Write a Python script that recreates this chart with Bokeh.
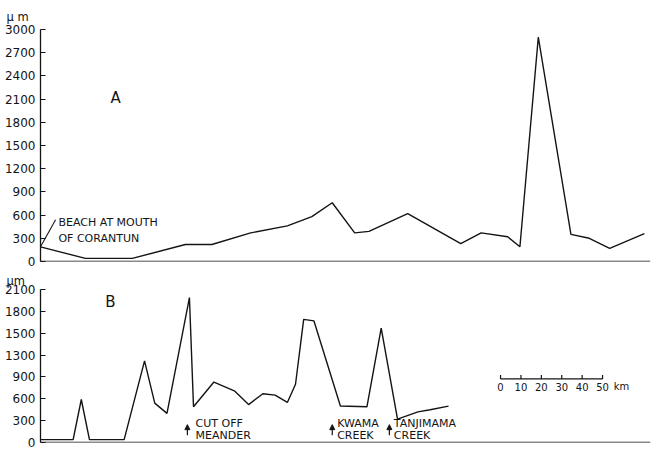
from bokeh.plotting import figure
from bokeh.layouts import column
from bokeh.models import Range1d, FixedTicker, Span, Label, Arrow, NormalHead, Title
from bokeh.embed import file_html
from bokeh.resources import INLINE

# ---------------- data ----------------
# Panel A: distance along coast (km) vs value (m)
a_km = [0, 22, 45, 71, 84, 103, 121, 133, 143, 154, 161, 180, 206, 216, 229, 235, 244, 260, 269, 279, 296]
a_val = [190, 40, 40, 220, 220, 370, 460, 580, 760, 370, 390, 620, 230, 370, 320, 190, 2900, 350, 300, 170, 360]

# Panel B
b_km = [0, 16, 20, 24, 41, 51, 56, 62, 73, 75, 85, 95, 102, 109, 115, 121, 125, 129, 134, 147, 160, 167, 175, 185, 191, 200]
b_val = [40, 40, 590, 40, 40, 1120, 540, 400, 1990, 490, 830, 710, 520, 670, 650, 550, 800, 1690, 1670, 500, 490, 1570, 320, 420, 450, 500]

a_ticks = [0, 300, 600, 900, 1200, 1500, 1800, 2100, 2400, 2700, 3000]
b_ticks = [0, 300, 600, 900, 1200, 1500, 1800, 2100]
b_tick_labels = ["0", "300", "600", "900", "1300", "1500", "1800", "2100"]

scale_km = [0, 10, 20, 30, 40, 50]

FONT = "DejaVu Sans"
INK = "#141414"
XMAX = 299


def base_fig(height, ymax, top, bottom, unit, standoff):
    p = figure(width=652, height=height, output_backend="svg", toolbar_location=None,
               x_range=Range1d(0, XMAX), y_range=Range1d(0, ymax),
               min_border_left=40, min_border_right=2,
               min_border_top=top, min_border_bottom=bottom, title=None)
    p.add_layout(Title(text=unit, align="left", offset=-34, standoff=standoff,
                       text_font=FONT, text_font_size="11.5px", text_font_style="normal",
                       text_color=INK), "above")
    p.xaxis.visible = False
    p.grid.visible = False
    p.outline_line_color = None
    p.yaxis.axis_line_color = INK
    p.yaxis.axis_line_width = 1.3
    p.yaxis.major_tick_in = 5
    p.yaxis.major_tick_out = 0
    p.yaxis.major_tick_line_color = INK
    p.yaxis.major_tick_line_width = 1.2
    p.yaxis.minor_tick_line_color = None
    p.yaxis.major_label_standoff = 5
    p.yaxis.major_label_text_font = FONT
    p.yaxis.major_label_text_font_size = "12px"
    p.yaxis.major_label_text_color = INK
    p.add_layout(Span(location=0, dimension="width", line_color=INK, line_width=1.6))
    return p


def lab(p, x, y, text, size="11px", align="left", baseline="middle"):
    p.add_layout(Label(x=x, y=y, text=text, text_font=FONT, text_font_size=size,
                       text_color=INK, text_align=align, text_baseline=baseline))


# ---------------- panel A ----------------
pA = base_fig(269, 3000, 29, 8, "\u03bc m", 11)
pA.yaxis.ticker = FixedTicker(ticks=a_ticks)
pA.line(a_km, a_val, line_color=INK, line_width=1.4)
lab(pA, 36.8, 2110, "A", size="15px", align="center")
lab(pA, 8.8, 502, "BEACH AT MOUTH")
lab(pA, 8.8, 296, "OF CORANTUN")
pA.segment(x0=[0], y0=[190], x1=[7.4], y1=[540], line_color=INK, line_width=1.1)

# ---------------- panel B ----------------
pB = base_fig(180, 2100, 18, 7, "\u03bcm", 4)
pB.yaxis.ticker = FixedTicker(ticks=b_ticks)
pB.yaxis.major_label_overrides = {t: s for t, s in zip(b_ticks, b_tick_labels)}
pB.line(b_km, b_val, line_color=INK, line_width=1.4)
lab(pB, 34.3, 1930, "B", size="15px", align="center")

for ax, tx, t1, t2 in [(72, 76, "CUT OFF", "MEANDER"),
                       (143, 145.4, "KWAMA", "CREEK"),
                       (171, 173.2, "TANJIMAMA", "CREEK")]:
    pB.add_layout(Arrow(x_start=ax, y_start=100, x_end=ax, y_end=245,
                        line_color=INK, line_width=1.2,
                        end=NormalHead(size=5, fill_color=INK, line_color=INK)))
    lab(pB, tx, 256, t1)
    lab(pB, tx, 90, t2)

# scale bar
s0 = 225.5
bar_y = 872
pB.segment(x0=[s0], y0=[bar_y], x1=[s0 + scale_km[-1]], y1=[bar_y], line_color=INK, line_width=1.2)
pB.segment(x0=[s0 + k for k in scale_km], y0=[bar_y] * len(scale_km),
           x1=[s0 + k for k in scale_km], y1=[bar_y + 55] * len(scale_km),
           line_color=INK, line_width=1.2)
for k in scale_km:
    lab(pB, s0 + k, 766, str(k), size="10px", align="center")
lab(pB, 281, 766, "km", size="10px")

layout = column(pA, pB, spacing=0)
open("out.html", "w").write(file_html(layout, INLINE))
